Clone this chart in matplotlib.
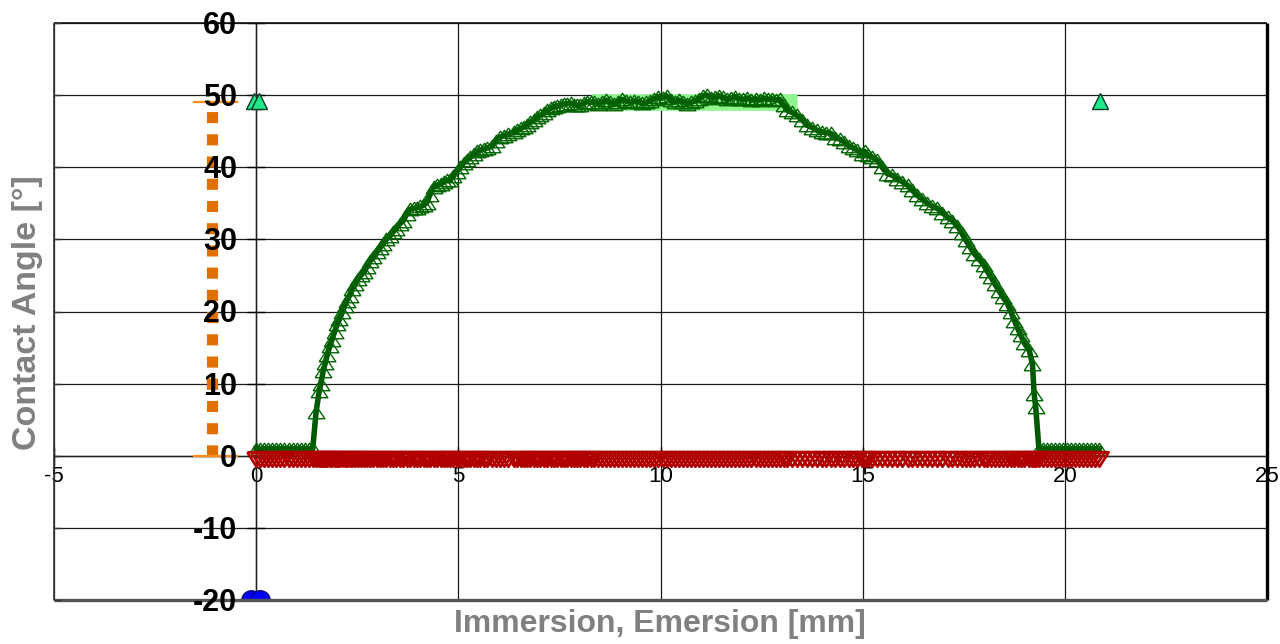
import matplotlib
matplotlib.use("Agg")
import matplotlib.pyplot as plt
import matplotlib.transforms as mtransforms

plt.rcParams['font.family'] = ['Liberation Sans', 'DejaVu Sans']
plt.rcParams['axes.unicode_minus'] = False

# ---------------- data ----------------
# advancing contact angle vs immersion depth (dark green)
curve_x = [
    0.00, 0.10, 0.20, 0.30, 0.40, 0.50, 0.60, 0.70, 0.80, 0.90, 1.00, 1.10, 1.20, 1.30, 1.40,
    1.48, 1.56, 1.60, 1.66, 1.71, 1.76, 1.82, 1.87, 1.94, 2.00, 2.06, 2.13, 2.19, 2.24, 2.31,
    2.38, 2.45, 2.52, 2.60, 2.67, 2.74, 2.82, 2.90, 2.98, 3.06, 3.14, 3.22, 3.30, 3.38, 3.46,
    3.56, 3.64, 3.72, 3.81, 3.90, 3.98, 4.06, 4.14, 4.22, 4.30, 4.39, 4.47, 4.56, 4.64, 4.72,
    4.80, 4.88, 4.96, 5.05, 5.13, 5.21, 5.30, 5.38, 5.46, 5.54, 5.63, 5.72, 5.83, 5.92, 6.04,
    6.13, 6.24, 6.37, 6.46, 6.55, 6.62, 6.70, 6.78, 6.86, 6.95, 7.03, 7.11, 7.20, 7.28, 7.36,
    7.45, 7.55, 7.62, 7.69, 7.78, 7.86, 7.94, 8.02, 8.10, 8.18, 8.27, 8.35, 8.45, 8.55, 8.65,
    8.75, 8.85, 8.95, 9.05, 9.15, 9.25, 9.35, 9.45, 9.55, 9.65, 9.75, 9.85, 9.95, 10.05, 10.15,
    10.25, 10.35, 10.45, 10.55, 10.65, 10.75, 10.85, 10.95, 11.05, 11.15, 11.25, 11.35, 11.45,
    11.55, 11.65, 11.75, 11.85, 11.95, 12.05, 12.15, 12.25, 12.35, 12.45, 12.55, 12.65, 12.75,
    12.85, 12.95, 13.05, 13.14, 13.25, 13.38, 13.50, 13.63, 13.75, 13.88, 14.00, 14.10, 14.21,
    14.32, 14.43, 14.54, 14.65, 14.76, 14.87, 14.98, 15.05, 15.12, 15.24, 15.36, 15.48, 15.61,
    15.73, 15.86, 15.98, 16.11, 16.23, 16.35, 16.47, 16.60, 16.72, 16.85, 16.97, 17.10, 17.22,
    17.34, 17.45, 17.55, 17.65, 17.76, 17.88, 18.00, 18.08, 18.17, 18.27, 18.37, 18.47, 18.58,
    18.66, 18.75, 18.83, 18.91, 19.00, 19.12, 19.20, 19.24, 19.28, 19.36,
    19.45, 19.55, 19.65, 19.75, 19.85, 19.95, 20.05, 20.15, 20.25, 20.35, 20.45, 20.55, 20.65,
    20.75, 20.85,
]
curve_y = [
    1.0, 1.0, 1.0, 1.0, 1.0, 1.0, 1.0, 1.0, 1.0, 1.0, 1.0, 1.0, 1.0, 1.0, 1.0,
    6.0, 9.0, 10.0, 11.8, 12.9, 14.0, 15.2, 16.0, 17.2, 18.2, 18.9, 19.9, 20.8, 21.5, 22.2,
    23.1, 23.8, 24.5, 25.1, 25.5, 26.2, 27.0, 27.5, 28.2, 28.8, 29.4, 30.0, 30.4, 31.0, 31.5,
    32.2, 32.6, 33.5, 34.2, 34.3, 34.4, 34.6, 34.7, 35.1, 36.2, 37.3, 37.5, 37.7, 38.0, 38.2,
    38.3, 38.8, 39.4, 40.0, 40.6, 41.0, 41.4, 41.8, 42.2, 42.4, 42.5, 42.7, 42.9, 43.6, 44.2,
    44.4, 44.6, 44.9, 45.2, 45.4, 45.6, 45.9, 46.3, 46.5, 46.9, 47.2, 47.5, 47.9, 48.2, 48.4,
    48.5, 48.7, 48.8, 48.8, 48.9, 48.7, 48.6, 48.6, 48.9, 49.1, 49.0, 49.1, 48.8, 49.0, 49.3,
    49.0, 48.8, 49.1, 49.4, 49.2, 49.0, 49.2, 49.1, 48.9, 49.0, 49.2, 49.5, 49.8, 49.6, 49.9,
    49.3, 49.0, 49.3, 49.1, 48.8, 49.0, 49.2, 49.4, 49.9, 50.0, 49.6, 49.8, 49.9,
    49.7, 49.4, 49.6, 49.8, 49.5, 49.4, 49.6, 49.3, 49.5, 49.3, 49.6, 49.4, 49.5,
    49.3, 49.4, 48.6, 47.9, 47.6, 47.2, 46.6, 45.8, 45.5, 45.1, 44.9, 44.8, 44.7,
    44.1, 43.9, 43.5, 43.0, 42.7, 42.4, 41.9, 42.2, 41.7, 41.4, 41.0, 40.0, 39.1,
    38.9, 38.4, 38.0, 37.5, 36.8, 36.1, 35.6, 35.0, 34.6, 34.3, 33.7, 33.1, 32.6,
    31.9, 30.9, 29.9, 29.0, 28.0, 27.3, 26.4, 25.6, 24.8, 23.8, 22.9, 22.0, 21.1,
    20.0, 18.75, 17.7, 16.7, 15.6, 14.6, 12.7, 8.6, 6.7, 0.9,
    1.0, 1.0, 1.0, 1.0, 1.0, 1.0, 1.0, 1.0, 1.0, 1.0, 1.0, 1.0, 1.0,
    1.0, 1.0,
]
# receding contact angle (red), ~0 over the whole run
receding_level = -0.5

# plateau mean (light green band)
plateau_x = [8.27, 13.37]
plateau_y = [49.0, 49.0]

# single markers
start_end_x = [-0.05, 0.08, 20.88]
start_end_y = [49.2, 49.2, 49.2]
blue_x = [-0.12, 0.10]
blue_y = [-20.0, -20.0]

# orange reference bar
orange_x = -1.09
orange_y = [0.0, 49.0]
orange_cap = [-1.53, -0.47]

x_ticks = [-5, 0, 5, 10, 15, 20, 25]
y_ticks = [-20, -10, 0, 10, 20, 30, 40, 50, 60]
y_tick_labels = ['-20', '-10', '0', '10', '20', '30', '40', '50', '60']

# ---------------- figure ----------------
fig = plt.figure(figsize=(12.8, 6.44), dpi=100)
ax = fig.add_axes([54 / 1280, 44 / 644, (1267 - 54) / 1280, (600 - 23) / 644])
ax.set_xlim(-5, 25)
ax.set_ylim(-20, 60)

ax.set_xticks(x_ticks)
ax.set_yticks(y_ticks)
ax.grid(True, color='#1a1a1a', linewidth=0.9, zorder=0)
ax.set_axisbelow(True)

# spines through the origin
for s in ['top', 'right']:
    ax.spines[s].set_visible(False)
ax.spines['left'].set_position(('data', 0))
ax.spines['bottom'].set_position(('data', 0))
ax.spines['left'].set_color('#222222')
ax.spines['bottom'].set_color('#222222')
ax.spines['left'].set_linewidth(1.0)
ax.spines['bottom'].set_linewidth(1.0)

ax.tick_params(axis='y', direction='inout', length=13, width=1.0, labelleft=False)
ax.tick_params(axis='x', direction='inout', length=13, width=1.0, pad=1,
               labelsize=16, colors='black')

# y tick labels drawn on top of the data
lab_tr = ax.transData + mtransforms.ScaledTranslation(-19 / 100, -3 / 100, fig.dpi_scale_trans)
for yv, yl in zip(y_ticks, y_tick_labels):
    ax.text(0, yv, yl, transform=lab_tr, ha='right', va='center', fontsize=22,
            fontweight='bold', color='black', zorder=10, clip_on=False)

# outer frame
fr = dict(transform=ax.transAxes, clip_on=False, solid_capstyle='butt', zorder=6)
ax.plot([0, 1], [1, 1], color='#111111', lw=1.2, **fr)
ax.plot([0, 0], [0, 1], color='#333333', lw=1.2, **fr)
ax.plot([1, 1], [0, 1], color='#000000', lw=2.4, **fr)
ax.plot([0, 1], [0, 0], color='#555555', lw=2.4, **fr)
btr = mtransforms.blended_transform_factory(ax.transAxes, ax.transData)
for yv in y_ticks:
    ax.plot([0, 0.005], [yv, yv], color='#333333', lw=1.0, transform=btr, clip_on=False, zorder=6)

# markers
tri_up = [(-1, -0.75), (1, -0.75), (0, 0.75), (-1, -0.75)]
tri_dn = [(-1, 0.8), (1, 0.8), (0, -0.8), (-1, 0.8)]

# plateau band
ax.plot(plateau_x, plateau_y, color='#8ff58f', lw=12, solid_capstyle='butt', zorder=2)

# advancing curve
ax.plot(curve_x, curve_y, color='#005800', lw=4.0, zorder=3,
        marker=tri_up, markersize=12, markerfacecolor='none',
        markeredgecolor='#006400', markeredgewidth=1.0)

# receding markers
ax.plot(curve_x, [receding_level] * len(curve_x), linestyle='none', zorder=4,
        marker=tri_dn, markersize=13, markerfacecolor='none',
        markeredgecolor='#b00000', markeredgewidth=2.0)

# orange dotted bar with caps
ax.plot([orange_x, orange_x], orange_y, color='#e07000', lw=8,
        dashes=(1, 1), dash_capstyle='butt', solid_capstyle='butt', zorder=4)
ax.plot(orange_cap, [orange_y[0]] * 2, color='#ff8c1a', lw=1.6, zorder=4)
ax.plot(orange_cap, [orange_y[1]] * 2, color='#ff8c1a', lw=1.6, zorder=4)

# start / end markers
ax.plot(start_end_x, start_end_y, linestyle='none', marker='^', markersize=12,
        markerfacecolor='#1ee88a', markeredgecolor='#0a3a20', markeredgewidth=1.0, zorder=5)
ax.plot(blue_x, blue_y, linestyle='none', marker='o', markersize=14,
        markerfacecolor='#0000ff', markeredgecolor='#000080', markeredgewidth=1.0, zorder=5)

# axis labels
fig.text(28 / 1280, 1 - 313 / 644, 'Contact Angle [°]', rotation=90, ha='center', va='center',
         fontsize=24.5, fontweight='bold', color='#808080')
fig.text(660 / 1280, 1 - 624 / 644, 'Immersion, Emersion [mm]', ha='center', va='center',
         fontsize=23, fontweight='bold', color='#808080')

fig.savefig('out.png', dpi=100)
